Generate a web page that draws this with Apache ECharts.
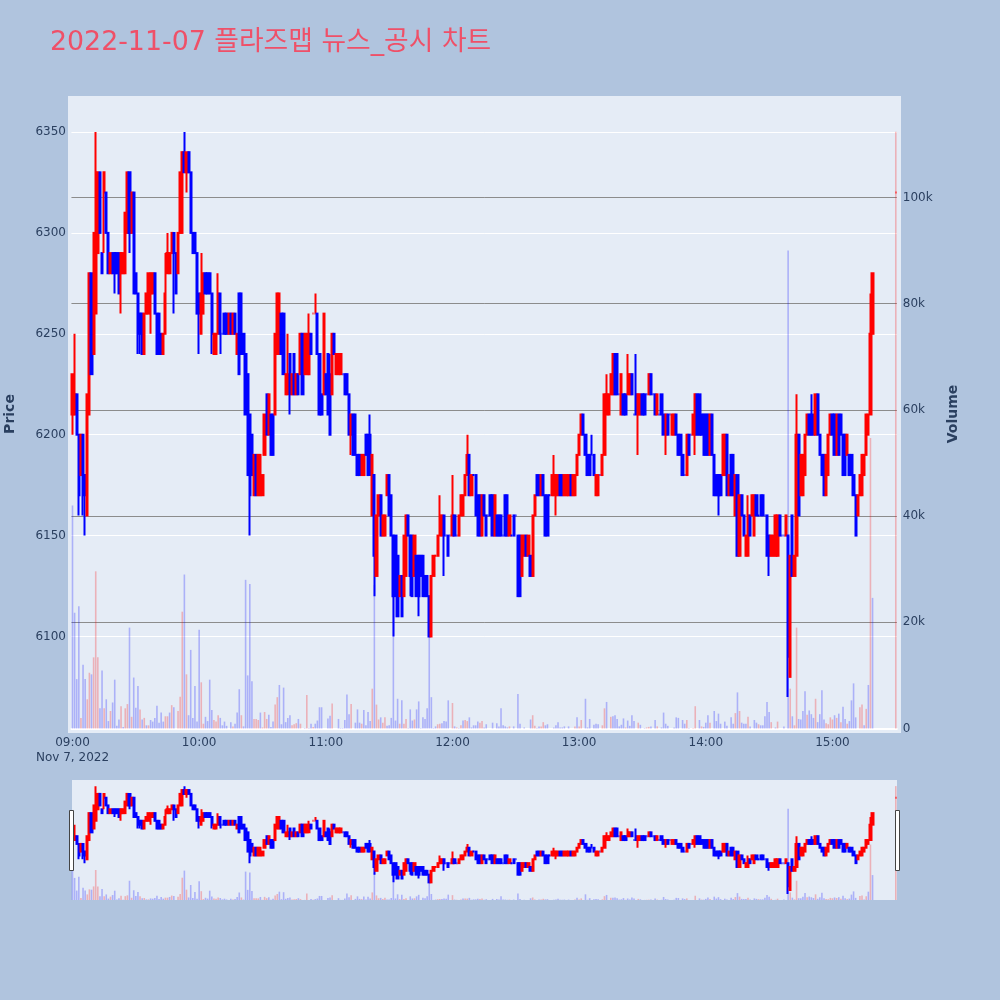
<!DOCTYPE html>
<html><head><meta charset="utf-8">
<style>html,body{margin:0;padding:0;background:#B0C4DE}#c{width:1000px;height:1000px}</style>
<script src="https://cdn.jsdelivr.net/npm/echarts@6/dist/echarts.min.js"></script>
</head><body><div id="c"></div>
<script>
const titleText = '2022-11-07 플라즈맵 뉴스_공시 차트';
const dateLabel = 'Nov 7, 2022';
const priceAxisName = 'Price';
const volumeAxisName = 'Volume';
const startMinute = 9 * 60;
const minuteCount = 391;

const opens = [
6210,6210,6220,6200,6180,6200,6180,6160,6210,6280,
6240,6260,6290,6330,6290,6320,6320,6300,6280,6290,
6290,6290,6290,6280,6280,6280,6300,6330,6300,6320,
6280,6270,6260,6260,6240,6260,6260,6270,6270,6280,
6260,6260,6250,6240,6250,6280,6280,6290,6300,6290,
6280,6300,6300,6340,6330,6340,6330,6300,6300,6290,
6270,6250,6260,6280,6280,6280,6270,6240,6240,6250,
6270,6250,6260,6260,6250,6260,6250,6260,6240,6270,
6270,6250,6240,6230,6210,6200,6170,6190,6170,6170,
6170,6190,6220,6200,6210,6210,6210,6240,6240,6260,
6260,6220,6220,6240,6220,6240,6220,6230,6230,6250,
6230,6230,6230,6250,6260,6260,6260,6240,6220,6220,
6230,6240,6230,6220,6250,6230,6230,6230,6230,6230,
6230,6220,6200,6210,6210,6190,6190,6180,6180,6200,
6200,6200,6160,6180,6130,6160,6170,6150,6150,6170,
6180,6170,6150,6150,6140,6120,6130,6120,6130,6160,
6150,6150,6130,6140,6140,6140,6140,6130,6130,6120,
6100,6130,6140,6140,6150,6150,6160,6150,6150,6150,
6150,6160,6150,6150,6160,6160,6170,6180,6190,6170,
6180,6180,6170,6170,6150,6170,6160,6160,6170,6170,
6150,6160,6160,6160,6150,6170,6170,6150,6150,6160,
6160,6150,6150,6130,6140,6150,6140,6140,6130,6160,
6180,6180,6170,6180,6170,6170,6170,6170,6170,6170,
6170,6180,6180,6170,6170,6170,6180,6170,6170,6180,
6190,6200,6210,6200,6190,6190,6190,6190,6170,6170,
6180,6180,6190,6210,6210,6220,6220,6240,6240,6220,
6210,6220,6220,6220,6220,6230,6210,6220,6210,6210,
6220,6220,6220,6220,6230,6220,6220,6210,6210,6220,
6210,6200,6210,6210,6200,6200,6210,6200,6200,6190,
6180,6180,6200,6200,6200,6200,6220,6220,6210,6210,
6210,6210,6190,6210,6190,6180,6180,6180,6180,6180,
6200,6170,6190,6190,6160,6180,6140,6170,6160,6140,
6140,6160,6160,6150,6170,6160,6170,6170,6160,6160,
6150,6140,6140,6140,6140,6160,6150,6150,6150,6150,
6080,6160,6130,6140,6200,6170,6170,6180,6200,6210,
6210,6210,6200,6220,6200,6190,6190,6170,6180,6200,
6210,6210,6190,6210,6210,6200,6200,6190,6190,6190,
6180,6170,6160,6170,6170,6180,6190,6200,6210,6250,
null,null,null,null,null,null,null,null,null,null,
6320];
const closes = [
6230,6220,6200,6170,6200,6170,6170,6220,6280,6230,
6300,6330,6330,6300,6280,6330,6300,6280,6290,6280,
6280,6280,6270,6290,6290,6310,6330,6300,6320,6270,
6270,6250,6250,6240,6260,6270,6280,6280,6280,6260,
6240,6240,6240,6250,6270,6290,6290,6300,6290,6270,
6300,6330,6340,6330,6340,6330,6300,6290,6290,6260,
6260,6270,6280,6270,6270,6270,6250,6250,6250,6270,
6250,6250,6250,6250,6260,6250,6260,6250,6250,6230,
6240,6240,6210,6180,6170,6180,6190,6170,6190,6190,
6180,6210,6200,6220,6190,6190,6250,6270,6270,6240,
6230,6230,6230,6220,6230,6220,6230,6220,6250,6220,
6250,6250,6250,6240,6260,6260,6240,6210,6210,6260,
6220,6210,6200,6250,6240,6240,6240,6240,6230,6220,
6220,6200,6210,6190,6190,6180,6180,6190,6190,6190,
6180,6180,6190,6140,6160,6170,6150,6160,6160,6180,
6160,6150,6120,6120,6110,6130,6110,6150,6160,6150,
6130,6120,6150,6120,6120,6130,6120,6120,6120,6100,
6130,6140,6140,6150,6160,6160,6150,6150,6140,6150,
6160,6150,6150,6160,6170,6170,6180,6190,6170,6180,
6180,6160,6150,6150,6170,6160,6150,6160,6160,6150,
6170,6150,6150,6150,6150,6150,6150,6160,6150,6150,
6160,6120,6120,6150,6150,6140,6150,6130,6160,6170,
6170,6170,6180,6170,6150,6150,6170,6180,6180,6180,
6180,6170,6170,6180,6180,6180,6170,6180,6180,6190,
6200,6210,6200,6190,6180,6180,6190,6180,6180,6180,
6180,6190,6220,6220,6220,6230,6240,6220,6220,6220,
6230,6210,6210,6230,6230,6220,6210,6210,6220,6220,
6210,6210,6220,6230,6220,6220,6210,6220,6210,6210,
6200,6210,6200,6210,6210,6210,6200,6190,6190,6180,
6180,6200,6190,6200,6210,6220,6200,6200,6200,6190,
6190,6190,6210,6190,6170,6170,6170,6170,6200,6200,
6170,6180,6170,6170,6180,6140,6170,6160,6150,6150,
6160,6150,6170,6170,6160,6160,6160,6160,6160,6140,
6140,6150,6150,6160,6160,6150,6150,6150,6160,6090,
6140,6130,6140,6200,6160,6190,6190,6200,6210,6200,
6200,6200,6220,6200,6190,6180,6170,6190,6200,6210,
6200,6190,6210,6190,6200,6180,6180,6200,6180,6180,
6170,6150,6170,6180,6190,6190,6210,6210,6250,6280,
null,null,null,null,null,null,null,null,null,null,
6320];
// wicks that reach past the candle body, by minute index
const wickHighs = {1:6250,11:6350,44:6290,45:6300,53:6350,61:6290,69:6280,102:6250,112:6260,115:6270,122:6240,141:6210,174:6170,180:6180,187:6200,228:6190,246:6200,253:6230,263:6240,267:6240,320:6170,343:6220,350:6220,378:6270};
const wickLows = {0:6200,3:6160,5:6160,6:6150,15:6290,20:6270,23:6260,27:6290,31:6240,32:6240,37:6250,48:6260,54:6320,60:6240,66:6240,70:6240,84:6150,103:6210,132:6190,143:6120,144:6130,152:6100,160:6120,164:6110,176:6130,229:6160,268:6190,281:6190,295:6190,306:6160,330:6130,339:6070};
// volume in thousands, by minute
const volumesK = [
42,21.8,9.3,23,2,12,9.3,5.5,10.5,10.2,
13.4,29.6,13.4,3.8,10.9,3.8,5.5,1.4,3.3,4.9,
9.2,.5,1.7,4.2,.3,3.8,4.6,19,2.2,9.6,
3.9,8,3.6,1.7,2,.6,.6,1.6,1.3,2,
4.3,1.1,3,1.3,2.3,2.3,3,4.4,4,0,
3.3,6,22,29,10.2,2.5,14.8,2,8,1.3,
18.6,8.7,.9,2.2,1.4,9.2,3.5,1.6,1.3,2.5,
2,.6,1.3,.5,0,1.2,.4,.9,3,7.4,
2.5,.4,28,10,27.2,8.9,1.8,1.8,1.6,3,
.2,3.1,1.8,2.6,.3,1.3,4.5,5.9,8.2,.8,
7.7,1.2,2,2.5,.6,.8,1,1.8,.9,0,
.1,6.3,.1,.9,.3,.9,1.5,4,4,0,
0,1.9,2.4,4.7,0,0,1.8,.1,.1,1.6,
6.4,2.7,4.6,0,1.1,3.6,1.1,.9,3.5,.6,
3.1,1.4,7.5,27,4.5,1.7,2.1,1.1,2.1,.5,
.6,2,26,1.5,5.6,.9,5.3,.9,1.8,.1,
3.6,1.5,1.7,3.6,5.1,.1,2.1,1.8,3.8,20,
5.9,.1,.4,.8,.9,1,1.4,1.3,5.3,0,
4.8,.4,.2,.1,.6,1.5,1.6,1.4,2.1,.2,
.6,.6,1.3,1.1,1.4,.2,.8,0,0,1.1,
0,1,.4,3.8,.6,.4,.2,.4,0,.4,
0,6.5,.9,0,.2,0,0,1.7,2.5,.5,
.1,.4,.4,1.2,.6,.8,0,0,.2,.6,
1.2,.2,.2,.4,0,.4,0,0,.4,2.1,
.4,1.6,0,5.6,.2,1.8,0,.7,.9,.8,
0,.6,3.8,5,0,2.2,2.3,2.5,1.8,.4,
.7,1.9,.2,1.5,.5,2.5,1.4,0,1.1,.7,
0,.1,.2,.3,.4,0,1.6,.4,0,.2,
3,.9,.5,0,0,.2,2.1,2,0,1.6,
.9,1.6,.1,0,.1,4.2,0,1.6,.4,.3,
1.1,2.5,1.1,0,3.3,1.4,2.8,.9,0,1.3,
.5,0,2.1,.9,2.9,6.8,3.3,1.1,.9,.9,
2.2,.4,0,1.6,1.1,.8,.6,.6,2.3,5,
3.1,1.2,0,.2,1.3,0,0,.4,0,90,
7.5,2.3,.6,19,1.8,1.7,3.3,7,2.6,3.4,
2.7,2,5.6,1.2,2.7,7.2,1.7,1,.8,2.1,
1.7,2.5,2,2.8,1.2,4.1,1.8,.9,1.4,5.3,
8.5,2.1,0,4,4.5,.6,3.7,8.2,54.7,24.6,
0,0,0,0,0,0,0,0,0,0,
112.4];
const redVolumeMinutes = [4,7,8,10,11,12,15,18,23,25,26,28,32,34,36,44,45,47,50,51,52,54,61,62,67,68,69,76,80,86,87,88,90,91,92,96,97,104,105,106,108,111,114,123,132,137,142,144,145,147,148,155,157,158,162,173,174,180,182,184,186,187,193,194,207,218,219,222,223,238,240,241,251,252,255,262,268,272,273,277,291,294,295,298,302,314,316,320,325,331,334,340,342,343,348,352,357,358,359,360,362,364,367,373,374,376,378,390];
const redFlatMinutes = [114,115,172,390];

const pad2 = n => String(n).padStart(2, '0');
const categories = Array.from({length: minuteCount}, (_, i) => {
  const t = startMinute + i; return pad2(Math.floor(t / 60)) + ':' + pad2(t % 60);
});
const candleData = categories.map((_, i) => {
  if (opens[i] == null) return ['-', '-', '-', '-'];
  const o = opens[i], c = closes[i];
  const l = wickLows[i] !== undefined ? wickLows[i] : Math.min(o, c);
  const h = wickHighs[i] !== undefined ? wickHighs[i] : Math.max(o, c);
  if (redFlatMinutes.includes(i)) return {value: [o, c, l, h], itemStyle: {borderColorDoji: '#ff0000'}};
  return [o, c, l, h];
});
const redSet = new Set(redVolumeMinutes);
const barData = volumesK.map((v, i) => ({
  value: v,
  itemStyle: {color: redSet.has(i) ? 'rgba(255,0,0,0.25)' : 'rgba(0,0,255,0.25)'}
}));

const FONT = '"DejaVu Sans","Noto Sans CJK KR",sans-serif';
const INK = '#2a3f5f';
const L = 71.44, W = 825.4;

const candleSeries = (x, y) => ({
  type: 'candlestick', xAxisIndex: x, yAxisIndex: y, data: candleData, clip: false,
  barWidth: 1.7, large: false, progressive: 0, z: 5,
  itemStyle: {color: '#ff0000', color0: '#0000ff', borderColor: '#ff0000', borderColor0: '#0000ff', borderColorDoji: '#0000ff', borderWidth: 2}
});
const barSeries = (x, y) => ({
  type: 'bar', xAxisIndex: x, yAxisIndex: y, data: barData, clip: false,
  barWidth: 1.6, progressive: 0, large: false, z: 3
});
const hiddenX = g => ({type: 'category', gridIndex: g, data: categories, boundaryGap: true, show: false});
const hiddenY = (g, min, max) => ({type: 'value', gridIndex: g, min, max, show: false, splitLine: {show: false}});
const axisNameText = (text, x) => ({type: 'text', silent: true, z: 50, x, y: 414, rotation: Math.PI / 2,
  style: {text, fill: INK, font: 'bold 14px ' + FONT, align: 'center', verticalAlign: 'middle'}});

const option = {
  animation: false,
  backgroundColor: '#B0C4DE',
  title: {text: titleText, left: 45, top: 25, textStyle: {color: '#EF5068', fontSize: 26.8, fontWeight: 'normal', fontFamily: FONT}},
  graphic: [
    {type: 'rect', silent: true, z: -10, shape: {x: 68, y: 96, width: 833, height: 637}, style: {fill: '#E5ECF6'}},
    {type: 'rect', silent: true, z: -10, shape: {x: 72, y: 780, width: 825, height: 120}, style: {fill: '#E5ECF6'}},
    {type: 'rect', silent: true, z: 50, shape: {x: 69.5, y: 810.5, width: 4, height: 60}, style: {fill: '#fff', stroke: '#444', lineWidth: 1}},
    {type: 'rect', silent: true, z: 50, shape: {x: 895.5, y: 810.5, width: 4, height: 60}, style: {fill: '#fff', stroke: '#444', lineWidth: 1}},
    {type: 'text', silent: true, z: 50, x: 36, y: 752, style: {text: dateLabel, fill: INK, font: '12px ' + FONT}},
    axisNameText(priceAxisName, 10),
    axisNameText(volumeAxisName, 953)
  ],
  grid: [
    {left: L, width: W, top: 132, height: 605.4},
    {left: L, width: W, top: 91.3, height: 637.2},
    {left: L, width: W, top: 786.2, height: 115.4},
    {left: L, width: W, top: 780, height: 120}
  ],
  xAxis: [
    hiddenX(0),
    {type: 'category', gridIndex: 1, data: categories, boundaryGap: true,
     axisTick: {show: false}, axisLine: {show: true, lineStyle: {color: '#ffffff', width: 2}},
     splitLine: {show: false},
     axisLabel: {color: INK, fontFamily: FONT, fontSize: 12, margin: 8, interval: i => i % 60 === 0 && i < 390}},
    hiddenX(2), hiddenX(3)
  ],
  yAxis: [
    {type: 'value', gridIndex: 0, position: 'left', min: 6050, max: 6350, interval: 50,
     axisLine: {show: false}, axisTick: {show: false},
     axisLabel: {color: INK, fontFamily: FONT, fontSize: 12, margin: 5.5, padding: [3, 0, 0, 0], showMinLabel: false, formatter: v => String(v)},
     splitLine: {show: true, showMinLine: false, lineStyle: {color: '#ffffff', width: 1}}},
    {type: 'value', gridIndex: 1, position: 'right', min: 0, max: 120, interval: 20,
     axisLine: {show: false}, axisTick: {show: false},
     axisLabel: {color: INK, fontFamily: FONT, fontSize: 12, margin: 6, padding: [3, 0, 0, 0], showMaxLabel: false,
       formatter: v => v === 0 ? '0' : v + 'k'},
     splitLine: {show: true, showMinLine: false, showMaxLine: false, lineStyle: {color: '#8c8c8c', width: 1}}},
    hiddenY(2, 6050, 6350),
    hiddenY(3, 0, 118.4)
  ],
  series: [barSeries(1, 1), candleSeries(0, 0), barSeries(3, 3), candleSeries(2, 2)]
};
const chart = echarts.init(document.getElementById('c'), null, {renderer: 'canvas'});
chart.setOption(option);
</script></body></html>
